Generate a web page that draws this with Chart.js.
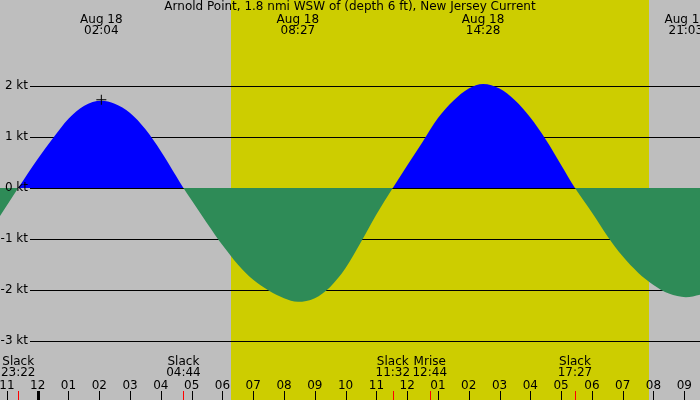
<!DOCTYPE html>
<html>
<head>
<meta charset="utf-8">
<script src="https://cdn.jsdelivr.net/npm/chart.js@4.4.0/dist/chart.umd.min.js"></script>
<style>
  html, body { margin: 0; padding: 0; background: #bebebe; }
  #wrap { width: 700px; height: 400px; }
</style>
</head>
<body>
<div id="wrap"><canvas id="tideChart" width="700" height="400"></canvas></div>
<script>
// hours from midnight Aug 18 (negative = Aug 17)
const curveHours = [-1.3, -0.633, 0, 0.5, 1, 1.5, 2.067, 2.5, 3, 3.5, 4, 4.5, 4.733,
  5, 5.5, 6, 6.5, 7, 7.5, 8, 8.45, 9, 9.5, 10, 10.5, 11, 11.533,
  12, 12.5, 13, 13.5, 14, 14.467, 15, 15.5, 16, 16.5, 17, 17.45,
  18, 18.5, 19, 19.5, 20, 20.5, 21.05, 21.6];
const curveKnots = [-0.62, 0, 0.57, 0.98, 1.36, 1.61, 1.71, 1.65, 1.47, 1.15, 0.72, 0.23, 0,
  -0.24, -0.69, -1.12, -1.5, -1.8, -2.01, -2.16, -2.23, -2.16, -1.94, -1.57, -1.06, -0.52, 0,
  0.44, 0.9, 1.37, 1.71, 1.95, 2.04, 1.95, 1.72, 1.38, 0.95, 0.45, 0,
  -0.48, -0.94, -1.34, -1.66, -1.9, -2.07, -2.14, -2.08];

const maxHours = [2.067, 8.45, 14.467, 21.05];
const maxDates = ["Aug 18", "Aug 18", "Aug 18", "Aug 18"];
const maxTimes = ["02:04", "08:27", "14:28", "21:03"];

const eventHours = [-0.633, 4.733, 11.533, 12.733, 17.45];
const eventNames = ["Slack", "Slack", "Slack", "Mrise", "Slack"];
const eventTimes = ["23:22", "04:44", "11:32", "12:44", "17:27"];

const hourTicks = [-1, 0, 1, 2, 3, 4, 5, 6, 7, 8, 9, 10, 11, 12, 13, 14, 15, 16, 17, 18, 19, 20, 21];
const hourLabels = ["11", "12", "01", "02", "03", "04", "05", "06", "07", "08", "09", "10",
  "11", "12", "01", "02", "03", "04", "05", "06", "07", "08", "09"];

const ktTicks = [2, 1, 0, -1, -2, -3];
const ktLabels = ["2 kt", "1 kt", "0 kt", "-1 kt", "-2 kt", "-3 kt"];

const sunrise = 6.28;
const sunset = 19.85;
const markHour = 2.067;
const markKnots = 1.73;

const title = "Arnold Point, 1.8 nmi WSW of (depth 6 ft), New Jersey Current";
const FONT = "12px 'DejaVu Sans'";

const px = (v) => Math.round(v) + 0.5;

const backdrop = {
  id: "backdrop",
  beforeDraw(chart) {
    const { ctx, scales: { x, y } } = chart;
    ctx.save();
    ctx.fillStyle = "#bebebe";
    ctx.fillRect(0, 0, chart.width, chart.height);
    ctx.fillStyle = "#cdcd00";
    const x0 = Math.round(x.getPixelForValue(sunrise));
    const x1 = Math.round(x.getPixelForValue(sunset));
    ctx.fillRect(x0, 0, x1 - x0, chart.height);
    // knot grid lines
    ctx.strokeStyle = "#000";
    ctx.lineWidth = 1;
    ktTicks.forEach((k) => {
      const yy = px(y.getPixelForValue(k));
      ctx.beginPath();
      ctx.moveTo(30, yy);
      ctx.lineTo(chart.width, yy);
      ctx.stroke();
    });
    ctx.restore();
  },
  afterDraw(chart) {
    const { ctx, scales: { x, y } } = chart;
    ctx.save();
    ctx.fillStyle = "#000";
    ctx.font = FONT;
    ctx.textBaseline = "middle";

    // y labels
    ctx.textAlign = "right";
    ktTicks.forEach((k, i) => {
      ctx.fillText(ktLabels[i], 28, y.getPixelForValue(k));
    });

    // title
    ctx.textAlign = "center";
    ctx.fillText(title, 350, 7);

    // max / min labels
    maxHours.forEach((h, i) => {
      const xx = x.getPixelForValue(h);
      ctx.fillText(maxDates[i], xx, 20);
      ctx.fillText(maxTimes[i], xx, 31);
    });

    // slack / moon labels
    eventHours.forEach((h, i) => {
      const xx = x.getPixelForValue(h);
      ctx.fillText(eventNames[i], xx, 362);
      ctx.fillText(eventTimes[i], xx, 373);
    });

    // hour labels and ticks
    hourTicks.forEach((h, i) => {
      const xx = x.getPixelForValue(h);
      ctx.fillText(hourLabels[i], xx, 386);
      if (h === 0) {
        ctx.fillRect(Math.round(xx) - 1, 391, 3, 9);
      } else {
        ctx.fillRect(Math.round(xx), 391, 1, 9);
      }
    });
    ctx.fillStyle = "#ff0000";
    eventHours.forEach((h) => {
      const xx = x.getPixelForValue(h);
      ctx.fillRect(Math.round(xx), 391, 1, 9);
    });
    ctx.restore();
  },
};

const ctx = document.getElementById("tideChart");
const chart = new Chart(ctx, {
  type: "line",
  data: {
    datasets: [
      {
        label: "current",
        data: curveHours.map((h, i) => ({ x: h, y: curveKnots[i] })),
        borderWidth: 0,
        borderColor: "rgba(0,0,0,0)",
        pointRadius: 0,
        cubicInterpolationMode: "monotone",
        fill: { target: "origin", above: "#0000ff", below: "#2e8b57" },
        order: 2,
      },
      {
        type: "scatter",
        label: "mark",
        data: [{ x: markHour, y: markKnots }],
        pointStyle: "cross",
        pointRadius: 5,
        borderColor: "#000",
        borderWidth: 1,
        order: 1,
      },
    ],
  },
  options: {
    responsive: false,
    animation: false,
    devicePixelRatio: 1,
    layout: { padding: 0, autoPadding: false },
    plugins: { legend: { display: false }, tooltip: { enabled: false } },
    scales: {
      x: { type: "linear", min: -1.2244, max: 21.511, display: false },
      y: { type: "linear", min: -4.157, max: 3.686, display: false },
    },
  },
  plugins: [backdrop],
});
</script>
</body>
</html>
